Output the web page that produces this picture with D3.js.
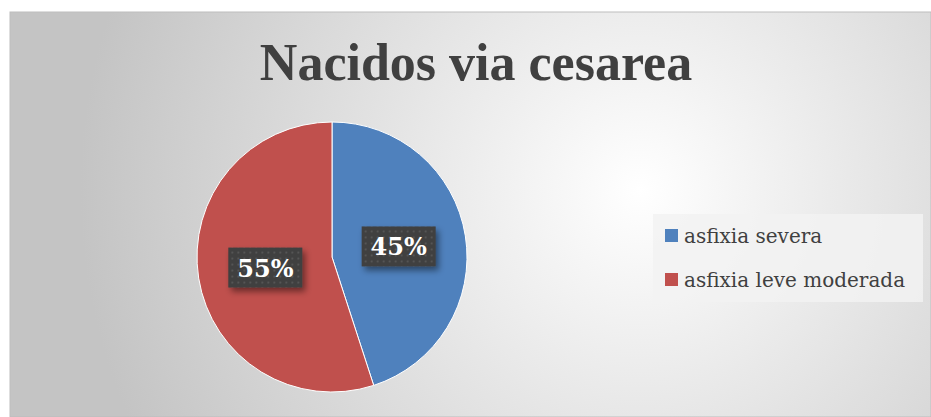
<!DOCTYPE html>
<html>
<head>
<meta charset="utf-8">
<script src="https://cdn.jsdelivr.net/npm/d3@7"></script>
<style>
  body { margin: 0; background: #fff; }
  svg { display: block; }
</style>
</head>
<body>
<svg id="chart" width="931" height="417"></svg>
<script>
var categories = ["asfixia severa", "asfixia leve moderada"];
var values = [45, 55];
var colors = ["#4F81BD", "#C0504D"];
var title = "Nacidos via cesarea";

var svg = d3.select("#chart");
var defs = svg.append("defs");

// background gradient
var bg = defs.append("radialGradient").attr("id", "bg")
  .attr("gradientUnits", "userSpaceOnUse")
  .attr("cx", 640).attr("cy", 190).attr("r", 560);
bg.append("stop").attr("offset", "0%").attr("stop-color", "#ffffff");
bg.append("stop").attr("offset", "100%").attr("stop-color", "#c4c4c4");

// dotted label pattern
var pat = defs.append("pattern").attr("id", "dots")
  .attr("width", 6).attr("height", 6).attr("patternUnits", "userSpaceOnUse");
pat.append("rect").attr("width", 6).attr("height", 6).attr("fill", "#3f3f3f");
pat.append("rect").attr("x", 2).attr("y", 2).attr("width", 2).attr("height", 2).attr("fill", "#555555");

var sh = defs.append("filter").attr("id", "shadow")
  .attr("x", "-20%").attr("y", "-20%").attr("width", "150%").attr("height", "160%");
sh.append("feDropShadow").attr("dx", 3).attr("dy", 4).attr("stdDeviation", 3)
  .attr("flood-color", "#000").attr("flood-opacity", 0.45);

svg.append("rect").attr("x", 10).attr("y", 12).attr("width", 921).attr("height", 405)
  .attr("fill", "url(#bg)").attr("stroke", "#bdbdbd").attr("stroke-width", 1);

svg.append("text")
  .attr("x", 476).attr("y", 80)
  .attr("text-anchor", "middle")
  .attr("font-family", "Liberation Serif, serif")
  .attr("font-weight", "bold")
  .attr("font-size", 52)
  .attr("fill", "#404040")
  .text(title);

var cx = 332, cy = 257, r = 135;
var pie = d3.pie().sort(null).value(d => d);
var arcs = pie(values);
var arc = d3.arc().innerRadius(0).outerRadius(r);

var g = svg.append("g").attr("transform", "translate(" + cx + "," + cy + ")");
g.selectAll("path").data(arcs).enter().append("path")
  .attr("d", arc)
  .attr("fill", (d, i) => colors[i])
  .attr("stroke", "#fff").attr("stroke-width", 1);

var total = d3.sum(values);
var lab = g.selectAll("g.lab").data(arcs).enter().append("g")
  .attr("class", "lab")
  .attr("transform", d => {
    var c = arc.centroid(d);
    return "translate(" + c[0] + "," + c[1] + ")";
  });
lab.append("rect")
  .attr("x", -37).attr("y", -20).attr("width", 74).attr("height", 40)
  .attr("fill", "url(#dots)").attr("filter", "url(#shadow)");
lab.append("text")
  .attr("text-anchor", "middle").attr("dy", 9)
  .attr("font-family", "DejaVu Serif, serif")
  .attr("font-weight", "bold").attr("font-size", 24)
  .attr("fill", "#fff")
  .text(d => Math.round(d.data / total * 100) + "%");

// legend
var lg = svg.append("g");
lg.append("rect").attr("x", 653).attr("y", 214).attr("width", 270).attr("height", 88)
  .attr("fill", "#f2f2f2").attr("fill-opacity", 0.85);
var items = lg.selectAll("g.item").data(categories).enter().append("g")
  .attr("transform", (d, i) => "translate(665," + (229 + i * 44) + ")");
items.append("rect").attr("width", 13).attr("height", 13).attr("fill", (d, i) => colors[i]);
items.append("text").attr("x", 19).attr("y", 14)
  .attr("font-family", "DejaVu Serif, serif").attr("font-size", 20)
  .attr("fill", "#404040")
  .text(d => d);
</script>
</body>
</html>
